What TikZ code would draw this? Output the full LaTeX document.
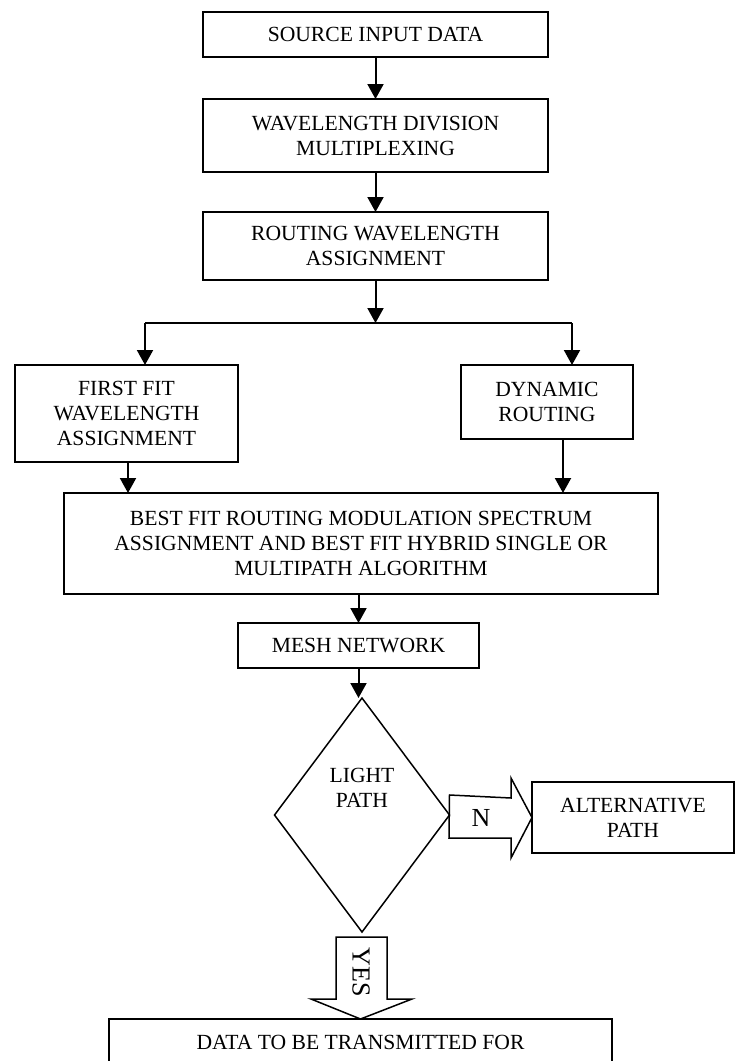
\documentclass[tikz,border=0pt]{standalone}
\usepackage{fontspec}
\setmainfont{Liberation Serif}
\usetikzlibrary{shapes.geometric,arrows.meta}
\begin{document}
\begin{tikzpicture}[x=1pt,y=-1pt,
  box/.style={draw, line width=1.9pt, rectangle, inner sep=0pt, outer sep=0pt, align=center, font=\fontsize{21.6}{25}\selectfont},
  txt/.style={inner sep=0pt, align=center, font=\fontsize{21.6}{25}\selectfont},
  big/.style={inner sep=0pt, font=\fontsize{26}{30}\selectfont},
  arr/.style={line width=2pt, -{Triangle[width=16pt,length=15pt]}},
  ln/.style={line width=2pt},
  thin/.style={line width=1.5pt, line join=miter}
]
\clip (0,0) rectangle (739,1061);
\fill[white] (0,0) rectangle (739,1061);

\node[box, minimum width=345pt, minimum height=45pt] (b1) at (375.5,34.5) {SOURCE INPUT DATA};
\node[box, minimum width=345pt, minimum height=73pt] (b2) at (375.5,135.5) {WAVELENGTH DIVISION\\MULTIPLEXING};
\node[box, minimum width=345pt, minimum height=68pt] (b3) at (375.5,246) {ROUTING WAVELENGTH\\ASSIGNMENT};
\node[box, minimum width=223pt, minimum height=97pt] (ff) at (126.5,413.5) {FIRST FIT\\WAVELENGTH\\ASSIGNMENT};
\node[box, minimum width=172pt, minimum height=74pt] (dyn) at (547,402) {DYNAMIC\\ROUTING};
\node[box, minimum width=594pt, minimum height=101pt] (bf) at (361,543.5) {BEST FIT ROUTING MODULATION SPECTRUM\\ASSIGNMENT AND BEST FIT HYBRID SINGLE OR\\MULTIPATH ALGORITHM};
\node[box, minimum width=241pt, minimum height=45pt] (mesh) at (358.5,645.5) {MESH NETWORK};
\node[diamond, draw, thin, inner sep=0pt, outer sep=0pt, minimum width=175pt, minimum height=234pt] (dia) at (362,815) {};
\node[txt] (lp) at (362,788) {LIGHT\\PATH};
\node[box, minimum width=202pt, minimum height=71pt] (alt) at (633,817.5) {ALTERNATIVE\\PATH};
\node[box, anchor=north, minimum width=503pt, minimum height=90pt] (data) at (360.5,1019) {};
\node[txt, anchor=base] (datatxt) at (360.5,1049) {DATA TO BE TRANSMITTED FOR};

\coordinate (br) at (375.5,323);
\coordinate (brL) at (145,323);
\coordinate (brR) at (572,323);

\draw[arr] (b1) -- (b2);
\draw[arr] (b2) -- (b3);
\draw[arr] (b3.south) -- (br);
\draw[ln] (brL) -- (brR);
\draw[arr] (brL) -- (brL |- ff.north);
\draw[arr] (brR) -- (brR |- dyn.north);
\draw[arr] ([xshift=1.5pt]ff.south) -- ([xshift=1.5pt]ff.south |- bf.north);
\draw[arr] ([xshift=16pt]dyn.south) -- ([xshift=16pt]dyn.south |- bf.north);
\draw[arr] (mesh.north |- bf.south) -- (mesh.north);
\draw[arr] (mesh.south) -- (mesh.south |- dia.north);

% N block arrow
\draw[thin] (dia.east) ++(0,-20) coordinate (n1) -- (511,798) -- (511,778) -- (alt.west) -- (511,858) -- (511,838) -- (449,838) -- cycle;
\node[big] (nlab) at (481,818) {N};

% YES block arrow
\draw[thin] (336,937) -- (387,937) -- (387,999) -- (412,999) -- (data.north) -- (311,999) -- (336,999) -- cycle;
\node[big, rotate=-90] (yes) at (361,972) {YES};
\end{tikzpicture}
\end{document}
